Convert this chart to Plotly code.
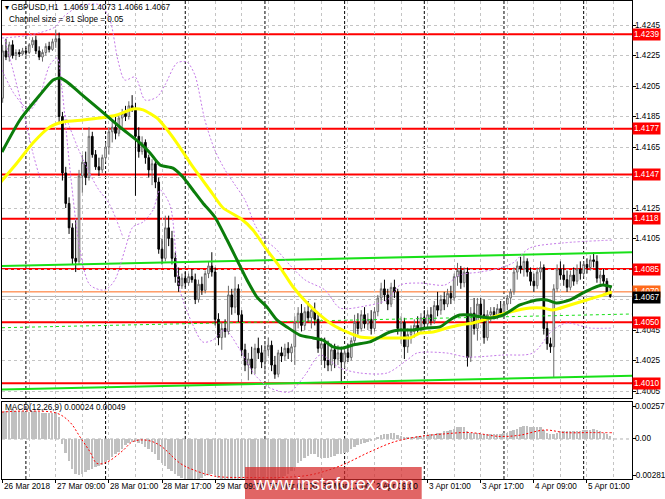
import plotly.graph_objects as go

# ---------------- DATA ----------------
opens = [
 1.4197,1.4228,1.4224,1.4232,1.4225,1.4227,1.4226,1.4228,1.4227,1.4232,
 1.4235,1.4228,1.4224,1.4227,1.4231,1.4229,1.4234,1.4236,1.4185,1.4148,
 1.4128,1.4112,1.4092,1.4090,1.4146,1.4155,1.4145,1.4172,1.4160,1.4152,
 1.4150,1.4158,1.4165,1.4175,1.4178,1.4174,1.4184,1.4187,1.4185,1.4192,
 1.4190,1.4172,1.4162,1.4168,1.4158,1.4150,1.4154,1.4142,1.4098,1.4092,
 1.4112,1.4105,1.4092,1.4080,1.4074,1.4079,1.4076,1.4080,1.4078,1.4065,
 1.4075,1.4071,1.4082,1.4087,1.4083,1.4052,1.4040,1.4046,1.4044,1.4068,
 1.4060,1.4072,1.4055,1.4032,1.4022,1.4026,1.4020,1.4033,1.4030,1.4024,
 1.4032,1.4035,1.4022,1.4016,1.4030,1.4028,1.4033,1.4030,1.4034,1.4050,
 1.4056,1.4048,1.4057,1.4053,1.4058,1.4052,1.4033,1.4036,1.4025,1.4022,
 1.4032,1.4026,1.4030,1.4024,1.4030,1.4027,1.4038,1.4050,1.4046,1.4055,
 1.4049,1.4052,1.4046,1.4057,1.4066,1.4072,1.4068,1.4062,1.4073,1.4070,
 1.4046,1.4050,1.4034,1.4042,1.4044,1.4048,1.4045,1.4053,1.4049,1.4055,
 1.4051,1.4061,1.4058,1.4065,1.4062,1.4069,1.4066,1.4080,1.4084,1.4076,
 1.4083,1.4027,1.4056,1.4046,1.4062,1.4055,1.4040,1.4055,1.4057,1.4054,
 1.4059,1.4056,1.4062,1.4066,1.4070,1.4083,1.4087,1.4085,1.4090,1.4083,
 1.4077,1.4074,1.4083,1.4086,1.4046,1.4036,1.4034,1.4072,1.4085,1.4081,
 1.4078,1.4073,1.4081,1.4077,1.4085,1.4082,1.4088,1.4086,1.4091,1.4090,
 1.4079,1.4081,1.4077,1.4069]
highs = [
 1.4232,1.4236,1.4234,1.4235,1.4229,1.4229,1.4230,1.4230,1.4233,1.4237,
 1.4238,1.4231,1.4229,1.4233,1.4234,1.4236,1.4242,1.4240,1.4188,1.4152,
 1.4132,1.4115,1.4118,1.4150,1.4160,1.4162,1.4178,1.4175,1.4163,1.4158,
 1.4160,1.4168,1.4178,1.4182,1.4185,1.4186,1.4190,1.4192,1.4195,1.4199,
 1.4194,1.4178,1.4172,1.4170,1.4160,1.4157,1.4156,1.4145,1.4105,1.4120,
 1.4120,1.4110,1.4096,1.4086,1.4082,1.4083,1.4082,1.4085,1.4082,1.4078,
 1.4080,1.4084,1.4090,1.4096,1.4086,1.4056,1.4050,1.4052,1.4074,1.4072,
 1.4080,1.4075,1.4058,1.4036,1.4030,1.4034,1.4036,1.4040,1.4035,1.4036,
 1.4040,1.4038,1.4028,1.4032,1.4034,1.4036,1.4037,1.4036,1.4054,1.4060,
 1.4062,1.4060,1.4064,1.4060,1.4063,1.4055,1.4040,1.4040,1.4038,1.4036,
 1.4036,1.4035,1.4034,1.4034,1.4036,1.4040,1.4055,1.4056,1.4058,1.4060,
 1.4056,1.4058,1.4060,1.4068,1.4076,1.4078,1.4072,1.4076,1.4078,1.4072,
 1.4054,1.4053,1.4046,1.4048,1.4052,1.4054,1.4056,1.4058,1.4058,1.4060,
 1.4064,1.4070,1.4068,1.4070,1.4072,1.4074,1.4082,1.4089,1.4087,1.4086,
 1.4086,1.4060,1.4066,1.4066,1.4066,1.4065,1.4058,1.4060,1.4060,1.4062,
 1.4064,1.4064,1.4068,1.4072,1.4086,1.4090,1.4093,1.4094,1.4092,1.4086,
 1.4082,1.4086,1.4090,1.4088,1.4050,1.4040,1.4075,1.4088,1.4090,1.4088,
 1.4084,1.4084,1.4086,1.4088,1.4090,1.4090,1.4092,1.4094,1.4096,1.4094,
 1.4084,1.4085,1.4079,1.4073]
lows = [
 1.4194,1.4222,1.4221,1.4223,1.4222,1.4224,1.4225,1.4225,1.4226,1.4230,
 1.4226,1.4222,1.4221,1.4225,1.4227,1.4228,1.4230,1.4180,1.4143,1.4125,
 1.4108,1.4088,1.4083,1.4088,1.4135,1.4140,1.4143,1.4158,1.4150,1.4146,
 1.4148,1.4155,1.4160,1.4168,1.4170,1.4172,1.4178,1.4182,1.4183,1.4188,
 1.4133,1.4158,1.4160,1.4154,1.4145,1.4140,1.4138,1.4095,1.4088,1.4090,
 1.4100,1.4088,1.4076,1.4070,1.4072,1.4073,1.4074,1.4076,1.4062,1.4063,
 1.4068,1.4069,1.4079,1.4080,1.4048,1.4035,1.4032,1.4040,1.4042,1.4055,
 1.4056,1.4050,1.4028,1.4018,1.4012,1.4016,1.4016,1.4026,1.4020,1.4018,
 1.4028,1.4018,1.4013,1.4014,1.4024,1.4025,1.4026,1.4024,1.4022,1.4046,
 1.4044,1.4045,1.4050,1.4046,1.4048,1.4030,1.4022,1.4020,1.4018,1.4018,
 1.4020,1.4022,1.4010,1.4020,1.4024,1.4025,1.4035,1.4042,1.4044,1.4046,
 1.4045,1.4042,1.4044,1.4054,1.4062,1.4064,1.4058,1.4060,1.4066,1.4042,
 1.4036,1.4026,1.4030,1.4036,1.4040,1.4042,1.4043,1.4046,1.4046,1.4048,
 1.4049,1.4054,1.4055,1.4058,1.4060,1.4062,1.4064,1.4074,1.4072,1.4073,
 1.4021,1.4024,1.4042,1.4038,1.4050,1.4036,1.4038,1.4050,1.4052,1.4052,
 1.4054,1.4054,1.4058,1.4062,1.4068,1.4078,1.4082,1.4080,1.4080,1.4074,
 1.4070,1.4072,1.4078,1.4042,1.4032,1.4030,1.4014,1.4070,1.4078,1.4074,
 1.4070,1.4071,1.4074,1.4075,1.4078,1.4080,1.4082,1.4084,1.4086,1.4076,
 1.4074,1.4074,1.4068,1.4066]
closes = [
 1.4228,1.4224,1.4232,1.4225,1.4227,1.4226,1.4228,1.4227,1.4232,1.4235,
 1.4228,1.4224,1.4227,1.4231,1.4229,1.4234,1.4236,1.4185,1.4148,1.4128,
 1.4112,1.4092,1.4090,1.4146,1.4155,1.4145,1.4172,1.4160,1.4152,1.4150,
 1.4158,1.4165,1.4175,1.4178,1.4174,1.4184,1.4187,1.4185,1.4192,1.4190,
 1.4172,1.4162,1.4168,1.4158,1.4150,1.4154,1.4142,1.4098,1.4092,1.4112,
 1.4105,1.4092,1.4080,1.4074,1.4079,1.4076,1.4080,1.4078,1.4065,1.4075,
 1.4071,1.4082,1.4087,1.4083,1.4052,1.4040,1.4046,1.4044,1.4068,1.4060,
 1.4072,1.4055,1.4032,1.4022,1.4026,1.4020,1.4033,1.4030,1.4024,1.4032,
 1.4035,1.4022,1.4016,1.4030,1.4028,1.4033,1.4030,1.4034,1.4050,1.4056,
 1.4048,1.4057,1.4053,1.4058,1.4052,1.4033,1.4036,1.4025,1.4022,1.4032,
 1.4026,1.4030,1.4024,1.4030,1.4027,1.4038,1.4050,1.4046,1.4055,1.4049,
 1.4052,1.4046,1.4057,1.4066,1.4072,1.4068,1.4062,1.4073,1.4070,1.4046,
 1.4050,1.4034,1.4042,1.4044,1.4048,1.4045,1.4053,1.4049,1.4055,1.4051,
 1.4061,1.4058,1.4065,1.4062,1.4069,1.4066,1.4080,1.4084,1.4076,1.4083,
 1.4027,1.4056,1.4046,1.4062,1.4055,1.4040,1.4055,1.4057,1.4054,1.4059,
 1.4056,1.4062,1.4066,1.4070,1.4083,1.4087,1.4085,1.4090,1.4083,1.4077,
 1.4074,1.4083,1.4086,1.4046,1.4036,1.4034,1.4072,1.4085,1.4081,1.4078,
 1.4073,1.4081,1.4077,1.4085,1.4082,1.4088,1.4086,1.4091,1.4090,1.4079,
 1.4081,1.4077,1.4069,1.4067]

macd_main = [
 .0021,.0022,.0023,.0023,.0022,.0022,.0022,.0021,.0021,.0022,
 .0022,.0021,.0020,.0020,.0020,.0020,.0021,.0017,-.0004,-.0011,
 -.0017,-.0023,-.0027,-.0028,-.0027,-.0026,-.0024,-.0023,-.0022,-.0021,
 -.0020,-.0018,-.0016,-.0014,-.0012,-.0010,-.0008,-.0005,-.0003,-.0002,
 -.0002,-.0003,-.0004,-.0006,-.0008,-.0010,-.0012,-.0016,-.0019,-.0021,
 -.0023,-.0025,-.0027,-.0029,-.0030,-.0031,-.0031,-.0032,-.0032,-.0031,
 -.0030,-.0029,-.0028,-.0027,-.0028,-.0030,-.0031,-.0032,-.0032,-.0031,
 -.0031,-.0032,-.0034,-.0035,-.0036,-.0036,-.0036,-.0035,-.0035,-.0034,
 -.0033,-.0033,-.0032,-.0031,-.0030,-.0029,-.0027,-.0025,-.0022,-.0019,
 -.0017,-.0015,-.0013,-.0012,-.0012,-.0014,-.0015,-.0015,-.0015,-.0014,
 -.0013,-.0012,-.0012,-.0011,-.0010,-.0008,-.0006,-.0005,-.0004,-.0003,
 -.0002,-.0001,.0000,.0001,.0003,.0004,.0004,.0005,.0005,.0003,
 .0002,.0001,.0001,.0001,.0001,.0002,.0002,.0003,.0003,.0004,
 .0004,.0005,.0005,.0006,.0006,.0007,.0008,.0009,.0009,.0009,
 .0006,.0005,.0005,.0005,.0004,.0004,.0004,.0004,.0004,.0004,
 .0004,.0005,.0005,.0006,.0007,.0008,.0009,.0010,.0010,.0009,
 .0009,.0009,.0009,.0007,.0005,.0004,.0004,.0005,.0006,.0006,
 .0006,.0006,.0006,.0006,.0006,.0007,.0007,.0007,.0008,.0007,
 .0006,.0005,.0004,.00024]

signal_bars = [-0.2, 8.2, 16.4, 20.3, 23.3, 26.3, 28.4, 31.4, 36.2, 39.2, 43.5, 47.4, 53.5,
               57.4, 64.0, 74.6, 83.5, 92.6, 101.6, 110.6, 118.2, 125.7, 133.2, 140.7,
               149.8, 155.8, 163.3, 169.4, 176.9, 183.5]
signal_vals = [0.0021, 0.00218, 0.0020, 0.0013, 0.00016, -0.0010, -0.0019, -0.0018, -0.0009,
               -0.0002, -0.0001, -0.0005, -0.0019, -0.0024, -0.0029, -0.0030, -0.0030, -0.0028,
               -0.0021, -0.0010, -0.0002, 0.0002, 0.0004, 0.0005, 0.0002, 0.0003, 0.0007,
               0.0005, 0.0005, 0.00049]

green_ma_bars = [-0.2, 5.2, 11.2, 15.2, 17.3, 19.4, 23.3, 29.3, 35.3, 41.4, 44.4, 47.4, 51.3,
                 54.3, 57.3, 60.3, 63.9, 67.6, 70.6, 73.6, 76.6, 79.6, 82.6, 85.6, 89.5, 93.5,
                 96.5, 99.5, 102.5, 105.5, 110.6, 113.6, 116.6, 119.7, 123.6, 127.8, 131.7,
                 134.7, 137.7, 140.7, 146.8, 150.7, 155.8, 160.9, 163.9, 166.9, 170.9, 174.8,
                 177.8, 180.8, 183.5]
green_ma_vals = [1.41617, 1.41827, 1.41991, 1.42089, 1.42102, 1.42076, 1.42004, 1.41893,
                 1.41781, 1.41676, 1.41611, 1.41532, 1.41512, 1.41453, 1.41368, 1.41283,
                 1.41191, 1.41040, 1.40909, 1.40778, 1.40666, 1.40601, 1.40516, 1.40470,
                 1.40417, 1.40398, 1.40384, 1.40339, 1.40332, 1.40352, 1.40372, 1.40404,
                 1.40437, 1.40450, 1.40450, 1.40463, 1.40470, 1.40516, 1.40548, 1.40548,
                 1.40529, 1.40548, 1.40614, 1.40647, 1.40647, 1.40627, 1.40647, 1.40693,
                 1.40725, 1.40745, 1.40732]

yellow_ma_bars = [-0.8, 4.3, 9.1, 14.2, 18.2, 24.2, 29.3, 34.4, 39.2, 42.3, 46.5, 48.9, 52.5,
                  57.3, 62.4, 66.4, 71.5, 75.4, 79.6, 83.5, 87.5, 91.7, 95.6, 99.5, 103.7,
                  107.6, 111.5, 115.7, 119.7, 122.7, 125.7, 129.6, 133.8, 137.7, 141.7, 146.8,
                  152.8, 158.8, 162.7, 165.7, 170.9, 175.9, 180.8, 183.5]
yellow_ma_vals = [1.41414, 1.41545, 1.41676, 1.41781, 1.41814, 1.41827, 1.41840, 1.41860,
                  1.41899, 1.41893, 1.41840, 1.41781, 1.41676, 1.41519, 1.41368, 1.41250,
                  1.41184, 1.41106, 1.40975, 1.40863, 1.40732, 1.40627, 1.40548, 1.40483,
                  1.40437, 1.40404, 1.40398, 1.40398, 1.40398, 1.40398, 1.40430, 1.40437,
                  1.40463, 1.40483, 1.40496, 1.40529, 1.40568, 1.40594, 1.40594, 1.40581,
                  1.40614, 1.40647, 1.40679, 1.40699]

band_upper_bars = [-0.2, 8.2, 15.8, 17.9, 23.3, 29.3, 32.3, 34.7, 36.8, 39.9, 42.9, 46.5, 48.9,
                   52.5, 55.5, 57.9, 60.9, 63.9, 67.0, 70.0, 73.0, 76.0, 79.0, 82.0, 86.5,
                   91.1, 97.1, 101.6, 109.1, 115.8, 119.7, 125.7, 133.2, 137.7, 143.8, 149.8,
                   153.7, 158.8, 168.8, 183.8]
band_upper_vals = [1.42365, 1.42384, 1.42437, 1.42496, 1.42575, 1.42581, 1.42483, 1.42220,
                   1.42089, 1.42109, 1.41958, 1.41978, 1.42057, 1.42201, 1.42207, 1.42122,
                   1.41827, 1.41630, 1.41499, 1.41401, 1.41302, 1.41139, 1.41040, 1.40988,
                   1.40876, 1.40778, 1.40712, 1.40594, 1.40607, 1.40647, 1.40745, 1.40758,
                   1.40745, 1.40811, 1.40830, 1.40857, 1.40890, 1.40988, 1.41021, 1.41040]

band_lower_bars = [-0.2, 3.7, 8.2, 11.2, 14.2, 16.4, 17.9, 20.3, 23.3, 26.3, 30.8, 33.8, 36.8,
                   39.2, 42.3, 45.3, 47.4, 50.4, 53.4, 57.3, 60.3, 63.3, 67.0, 71.5, 76.0, 80.5,
                   86.5, 91.1, 95.6, 101.6, 107.6, 115.8, 121.8, 124.8, 133.8, 139.8, 150.7,
                   159.7, 165.7, 169.9, 176.9, 183.5]
band_lower_vals = [1.42155, 1.41991, 1.41893, 1.41991, 1.42188, 1.42234, 1.42024, 1.41499,
                   1.40975, 1.40745, 1.40712, 1.40778, 1.40975, 1.41125, 1.41158, 1.41237,
                   1.41368, 1.41269, 1.40712, 1.40483, 1.40371, 1.40384, 1.40450, 1.40319,
                   1.40155, 1.40070, 1.40044, 1.40155, 1.40286, 1.40201, 1.40168, 1.40168,
                   1.40253, 1.40299, 1.40299, 1.40273, 1.40286, 1.40299, 1.40450, 1.40496,
                   1.40463, 1.40463]

band_extra1_bars = [0.7, 3.1, 6.1, 9.1, 11.2]
band_extra1_vals = [1.42352, 1.42155, 1.41893, 1.41611, 1.41447]
band_extra2_bars = [18.8, 23.3, 28.4, 32.3, 36.2]
band_extra2_vals = [1.41860, 1.41611, 1.41388, 1.41270, 1.41060]

channel_bars = [-0.2, 189.56]
channel_upper = [1.4087, 1.4096]
channel_middle = [1.40465, 1.40555]
channel_lower = [1.4006, 1.4015]

level_prices = [1.4239, 1.4177, 1.4147, 1.4118, 1.4085, 1.4050, 1.4010]
orange_level = 1.4070
last_price = 1.4067

price_ticks = [1.4005, 1.4025, 1.4045, 1.4065, 1.4085, 1.4105, 1.4125, 1.4145, 1.4165,
               1.4185, 1.4205, 1.4225, 1.4245]
macd_ticks = [0.00257, 0.0, -0.00281]
macd_tick_text = ["0.00257", "0.00", "-0.00281"]

time_tick_bars = [0, 16, 32, 48, 64, 80, 96, 112, 128, 144, 160, 176]
time_tick_labels = ["26 Mar 2018", "27 Mar 09:00", "28 Mar 01:00", "28 Mar 17:00",
                    "29 Mar 09:00", "30 Mar 01:00", "30 Mar 17:00", "2 Apr 09:00",
                    "3 Apr 01:00", "3 Apr 17:00", "4 Apr 09:00", "5 Apr 01:00"]
day_separator_bars = [7, 31, 55, 79, 103, 127, 151, 175]

header_line1 = "▾ GBPUSD,H1  1.4069 1.4073 1.4066 1.4067"
header_line2 = "Channel size = 81 Slope = 0.05"
macd_title = "MACD(12,26,9) 0.00024 0.00049"
watermark = "www.instaforex.com"

# ---------------- FIGURE ----------------
FONT = "Liberation Sans, Arial, sans-serif"
FS = 8.2
bar_index = list(range(len(closes)))

fig = go.Figure()

common = dict(xaxis="x", yaxis="y", hoverinfo="skip", showlegend=False)
fig.add_trace(go.Scatter(x=channel_bars, y=channel_upper, mode="lines",
                         line=dict(color="#18e018", width=2), **common))
fig.add_trace(go.Scatter(x=channel_bars, y=channel_middle, mode="lines",
                         line=dict(color="#18e018", width=1, dash="3px,3px"), **common))
fig.add_trace(go.Scatter(x=channel_bars, y=channel_lower, mode="lines",
                         line=dict(color="#18e018", width=2), **common))

for bx, bv in [(band_upper_bars, band_upper_vals), (band_lower_bars, band_lower_vals),
               (band_extra1_bars, band_extra1_vals), (band_extra2_bars, band_extra2_vals)]:
    fig.add_trace(go.Scatter(x=bx, y=bv, mode="lines",
                             line=dict(color="#c57ae8", width=1, dash="2px,2px", shape="spline",
                                       smoothing=0.8), **common))

fig.add_trace(go.Candlestick(
    x=bar_index, open=opens, high=highs, low=lows, close=closes,
    increasing=dict(line=dict(color="#6a6a6a", width=1), fillcolor="#ffffff"),
    decreasing=dict(line=dict(color="#000000", width=1), fillcolor="#000000"),
    whiskerwidth=0, xaxis="x", yaxis="y", hoverinfo="skip", showlegend=False))

fig.add_trace(go.Scatter(x=yellow_ma_bars, y=yellow_ma_vals, mode="lines",
                         line=dict(color="#ffff00", width=3, shape="spline", smoothing=0.6), **common))
fig.add_trace(go.Scatter(x=green_ma_bars, y=green_ma_vals, mode="lines",
                         line=dict(color="#0b7d0b", width=3, shape="spline", smoothing=0.6), **common))

fig.add_trace(go.Bar(x=bar_index, y=macd_main, width=0.6, marker=dict(color="#c0c0c0", line=dict(width=0)),
                     xaxis="x2", yaxis="y2", hoverinfo="skip", showlegend=False))
fig.add_trace(go.Scatter(x=signal_bars, y=signal_vals, mode="lines",
                         line=dict(color="#ff0000", width=1, dash="2px,2px", shape="spline"),
                         xaxis="x2", yaxis="y2", hoverinfo="skip", showlegend=False))

shapes = []
for b in day_separator_bars:
    shapes.append(dict(type="line", xref="x", yref="paper", x0=b, x1=b, y0=0, y1=1,
                       line=dict(color="#000000", width=1, dash="3px,2px"), layer="between"))
for p in level_prices:
    shapes.append(dict(type="line", xref="paper", yref="y", x0=0, x1=1, y0=p, y1=p,
                       line=dict(color="#ff0000", width=2), layer="between"))
shapes.append(dict(type="line", xref="paper", yref="y", x0=0, x1=1, y0=orange_level, y1=orange_level,
                   line=dict(color="#ff6a1a", width=1), layer="between"))
shapes.append(dict(type="line", xref="paper", yref="y", x0=0, x1=1, y0=last_price, y1=last_price,
                   line=dict(color="#b0b0b0", width=1), layer="between"))
shapes.append(dict(type="line", xref="paper", yref="y2", x0=0, x1=1, y0=0, y1=0,
                   line=dict(color="#b0b0b0", width=1, dash="3px,3px"), layer="between"))
# watermark box
shapes.append(dict(type="rect", xref="paper", yref="paper", x0=0.3857, x1=0.6662, y0=-0.0420,
                   y1=0.0251, fillcolor="rgba(214,42,42,0.72)", line=dict(width=0), layer="above"))

annotations = []
label_font = dict(family=FONT, size=FS, color="#000000")
# right-hand price scale labels
for v in price_ticks:
    annotations.append(dict(xref="paper", yref="y", x=1, y=v, xanchor="left", yanchor="middle",
                            xshift=2, text=f"{v:.4f}", showarrow=False, font=label_font, borderpad=0))
for v, t in zip(macd_ticks, macd_tick_text):
    annotations.append(dict(xref="paper", yref="y2", x=1, y=v, xanchor="left", yanchor="middle",
                            xshift=(0 if t.startswith("-") else 2), text=t, showarrow=False,
                            font=label_font, borderpad=0))
# level boxes
for p in level_prices:
    annotations.append(dict(xref="paper", yref="y", x=1, y=p, xanchor="left", yanchor="middle",
                            xshift=0, text=f"{p:.4f}", showarrow=False, bgcolor="#ff0000",
                            font=dict(family=FONT, size=FS, color="#ffffff"), borderpad=1))
annotations.append(dict(xref="paper", yref="y", x=1, y=orange_level, xanchor="left", yanchor="middle",
                        xshift=0, text=f"{orange_level:.4f}", showarrow=False, bgcolor="#ff6a1a",
                        font=dict(family=FONT, size=FS, color="#ffffff"), borderpad=1))
annotations.append(dict(xref="paper", yref="y", x=1, y=last_price, xanchor="left", yanchor="middle",
                        xshift=0, yshift=-1, text=f"{last_price:.4f}", showarrow=False, bgcolor="#000000",
                        font=dict(family=FONT, size=FS, color="#ffffff"), borderpad=1))
for b, t in zip(time_tick_bars, time_tick_labels):
    annotations.append(dict(xref="x", yref="paper", x=b, y=-0.0167, xanchor="left", yanchor="middle",
                            xshift=0, text=t, showarrow=False, font=label_font, borderpad=0))
annotations.append(dict(xref="paper", yref="paper", x=0, y=0.9854, xanchor="left", yanchor="middle",
                        xshift=1, text=header_line1, showarrow=False, font=label_font))
annotations.append(dict(xref="paper", yref="paper", x=0, y=0.9603, xanchor="left", yanchor="middle",
                        xshift=5, text=header_line2, showarrow=False, font=label_font))
annotations.append(dict(xref="paper", yref="paper", x=0, y=0.1506, xanchor="left", yanchor="middle",
                        xshift=1, text=macd_title, showarrow=False, font=label_font))
annotations.append(dict(xref="paper", yref="paper", x=0.526, y=-0.0105, xanchor="center", yanchor="middle",
                        text=watermark, showarrow=False, borderpad=0,
                        font=dict(family=FONT, size=18, color="#ffffff")))

grid = dict(showgrid=True, gridcolor="#c4c4c4", gridwidth=1, griddash="3px,3px")
xcommon = dict(range=[-0.2, 189.56], tickmode="linear", tick0=0, dtick=16, showticklabels=False,
               zeroline=False, showline=True, linecolor="#000000", linewidth=1, mirror=True,
               minor=dict(tick0=0, dtick=8, showgrid=True, gridcolor="#c4c4c4", griddash="3px,3px",
                          ticks=""),
               rangeslider=dict(visible=False), fixedrange=True, **grid)

fig.update_layout(
    width=665, height=499,
    margin=dict(l=2, r=33, t=1, b=20),
    paper_bgcolor="#ffffff", plot_bgcolor="#ffffff",
    showlegend=False, bargap=0,
    xaxis=dict(domain=[0, 1], anchor="y", ticks="", **xcommon),
    xaxis2=dict(domain=[0, 1], anchor="y2", matches="x", ticks="outside", ticklen=3,
                tickcolor="#000000", **xcommon),
    yaxis=dict(domain=[0.16946, 1], range=[1.400041, 1.426074], side="right",
               tickmode="array", tickvals=price_ticks, showticklabels=False,
               ticks="outside", ticklen=3, tickcolor="#000000",
               zeroline=False, showline=True, linecolor="#000000", linewidth=1, mirror=True,
               fixedrange=True, **grid),
    yaxis2=dict(domain=[0, 0.16109], range=[-0.003115, 0.002882], side="right",
                tickmode="array", tickvals=macd_ticks, showticklabels=False,
                ticks="outside", ticklen=3, tickcolor="#000000",
                zeroline=False, showgrid=False, showline=True, linecolor="#000000", linewidth=1,
                mirror=True, fixedrange=True),
    shapes=shapes,
    annotations=annotations,
)

fig.write_html("out.html", config={"displayModeBar": False},
               post_script="document.body.style.margin='0';document.body.style.overflow='hidden';")
